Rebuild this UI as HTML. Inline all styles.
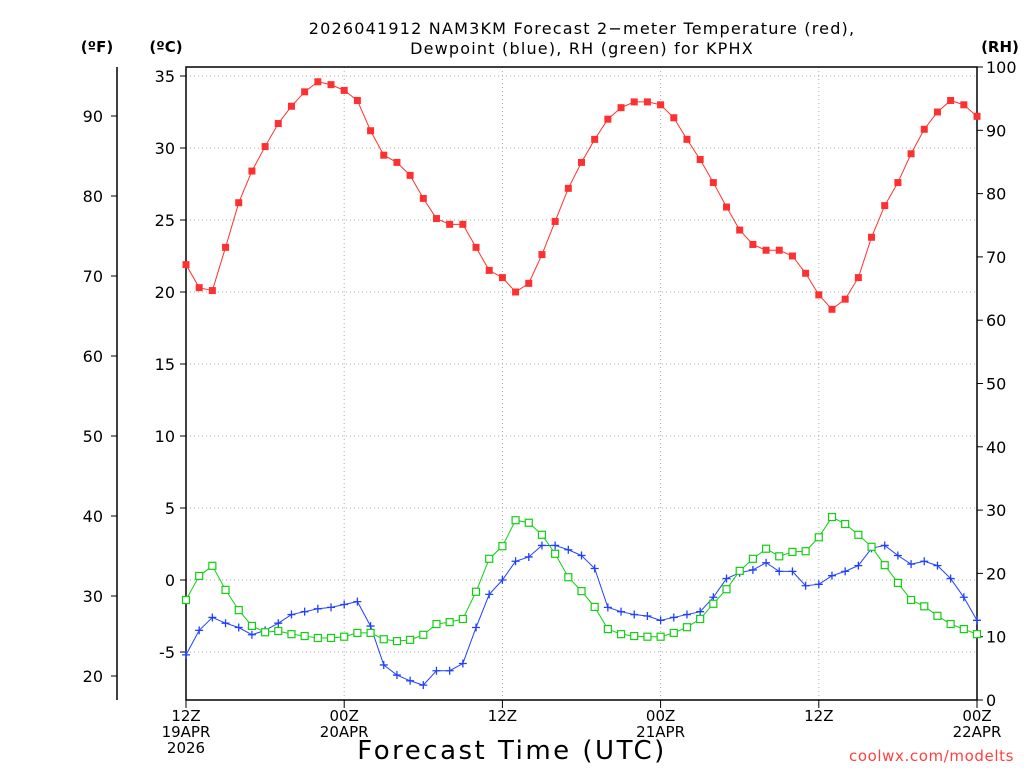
<!DOCTYPE html>
<html><head><meta charset="utf-8"><style>
html,body{margin:0;padding:0;background:#fff;}
svg{display:block;font-family:"DejaVu Sans","Liberation Sans",sans-serif;}
</style></head><body>
<svg id="chart" width="1024" height="768" viewBox="0 0 1024 768">
<text x="582" y="34" font-size="16" text-anchor="middle" letter-spacing="1.2">2026041912 NAM3KM Forecast 2−meter Temperature (red),</text>
<text x="582" y="54" font-size="16" text-anchor="middle" letter-spacing="1.2">Dewpoint (blue), RH (green) for KPHX</text>
<text x="97" y="52" font-size="15" font-weight="bold" text-anchor="middle">(ºF)</text>
<text x="166" y="52" font-size="15" font-weight="bold" text-anchor="middle">(ºC)</text>
<text x="1000" y="52" font-size="15" font-weight="bold" text-anchor="middle">(RH)</text>
<text x="512" y="759" font-size="26" text-anchor="middle" letter-spacing="2.5">Forecast Time (UTC)</text>
<text x="1014" y="761" font-size="15" fill="#ff4040" text-anchor="end" letter-spacing="0.6">coolwx.com/modelts</text>
<g id="grid"></g><g id="axes"></g><g id="series"></g>
</svg>
<script>
const hours=[];for(let i=0;i<=60;i++)hours.push(i);
const tempC=[21.9,20.3,20.1,23.1,26.2,28.4,30.1,31.7,32.9,33.9,34.6,34.4,34.0,33.3,31.2,29.5,29.0,28.1,26.5,25.1,24.7,24.7,23.1,21.5,21.0,20.0,20.6,22.6,24.9,27.2,29.0,30.6,32.0,32.8,33.2,33.2,33.0,32.1,30.6,29.2,27.6,25.9,24.3,23.3,22.9,22.9,22.5,21.3,19.8,18.8,19.5,21.0,23.8,26.0,27.6,29.6,31.3,32.5,33.3,33.0,32.2];
const dewC=[-5.2,-3.5,-2.6,-3.0,-3.3,-3.8,-3.5,-3.0,-2.4,-2.2,-2.0,-1.9,-1.7,-1.5,-3.2,-5.9,-6.6,-7.0,-7.3,-6.3,-6.3,-5.8,-3.3,-1.0,0.0,1.3,1.6,2.4,2.4,2.1,1.7,0.8,-1.9,-2.2,-2.4,-2.5,-2.8,-2.6,-2.4,-2.2,-1.2,0.1,0.5,0.7,1.2,0.6,0.6,-0.4,-0.3,0.3,0.6,1.0,2.2,2.4,1.7,1.1,1.3,1.0,0.1,-1.2,-2.8];
const rh=[15.8,19.6,21.2,17.4,14.2,11.7,10.7,10.9,10.4,10.1,9.8,9.8,10.0,10.6,10.6,9.6,9.3,9.5,10.3,12.0,12.3,12.8,17.1,22.3,24.3,28.4,28.0,26.1,23.1,19.4,17.2,14.7,11.2,10.4,10.1,10.0,10.0,10.6,11.5,12.8,15.2,17.5,20.4,22.3,23.9,22.7,23.4,23.5,25.7,28.9,27.8,26.1,24.2,21.3,18.5,15.8,14.8,13.3,12.0,11.2,10.4];
const cTicks=[-5,0,5,10,15,20,25,30,35];
const fTicks=[20,30,40,50,60,70,80,90];
const rhTicks=[0,10,20,30,40,50,60,70,80,90,100];
const xTicks=[0,12,24,36,48,60];
const xLab1=["12Z","00Z","12Z","00Z","12Z","00Z"];
const xLab2=["19APR","20APR","","21APR","","22APR"];
const xLab3=["2026","","","","",""];
const X0=186,X1=977,Y0=67,Y1=700;
const x=h=>X0+(X1-X0)*h/60;
const yC=c=>580-c*14.4;
const yF=f=>yC((f-32)*5/9);
const yR=r=>Y1-(Y1-Y0)*r/100;
const NS="http://www.w3.org/2000/svg";
function mk(p,t,a){const e=document.createElementNS(NS,t);for(const k in a)e.setAttribute(k,a[k]);p.appendChild(e);return e;}
const G=document.getElementById('grid'),A=document.getElementById('axes'),S=document.getElementById('series');
cTicks.forEach(c=>{
 const l=mk(G,'line',{x1:X0,x2:X1,y1:yC(c),y2:yC(c),stroke:'#aaa','stroke-dasharray':'1,3'});
 
 mk(A,'line',{x1:X0-6,x2:X0,y1:yC(c),y2:yC(c),stroke:'#000'});
 const t=mk(A,'text',{x:X0-11,y:yC(c)+6,'font-size':16,'text-anchor':'end'});t.textContent=c;
 
});
xTicks.forEach((h,i)=>{
 if(i>0&&i<5){const l=mk(G,'line',{x1:x(h),x2:x(h),y1:Y0,y2:Y1,stroke:'#aaa','stroke-dasharray':'1,3'});
 }
 mk(A,'line',{x1:x(h),x2:x(h),y1:Y1,y2:Y1+8,stroke:'#000'});
 [xLab1[i],xLab2[i],xLab3[i]].forEach((s,j)=>{if(!s)return;
  const t=mk(A,'text',{x:x(h),y:721+j*16,'font-size':15,'text-anchor':'middle'});t.textContent=s;
  });
});
mk(A,'rect',{x:X0,y:Y0,width:X1-X0,height:Y1-Y0,fill:'none',stroke:'#000','stroke-width':1.5});
mk(A,'line',{x1:117,x2:117,y1:Y0,y2:Y1,stroke:'#000','stroke-width':1.5});
fTicks.forEach(f=>{mk(A,'line',{x1:111,x2:117,y1:yF(f),y2:yF(f),stroke:'#000'});
 const t=mk(A,'text',{x:103,y:yF(f)+6,'font-size':16,'text-anchor':'end'});t.textContent=f;
 });
rhTicks.forEach(r=>{mk(A,'line',{x1:X1,x2:X1+6,y1:yR(r),y2:yR(r),stroke:'#000'});
 const t=mk(A,'text',{x:986,y:yR(r)+6,'font-size':16,'text-anchor':'start'});t.textContent=r;
 });
function line(vals,fy,col,name){
 const p=mk(S,'polyline',{points:vals.map((v,i)=>x(hours[i])+','+fy(v)).join(' '),fill:'none',stroke:col,'stroke-width':1});
 
}
line(tempC,yC,'#ff3030','temperature-line');
line(dewC,yC,'#2040ff','dewpoint-line');
line(rh,yR,'#10d010','rh-line');
tempC.forEach((v,i)=>{const r=mk(S,'rect',{x:x(hours[i])-3.5,y:yC(v)-3.5,width:7,height:7,fill:'#ff3030'});
 });
dewC.forEach((v,i)=>{const g=mk(S,'path',{d:`M${x(hours[i])-4} ${yC(v)}h8M${x(hours[i])} ${yC(v)-4}v8`,stroke:'#2040ff','stroke-width':1.3});
 });
rh.forEach((v,i)=>{const r=mk(S,'rect',{x:x(hours[i])-3.5,y:yR(v)-3.5,width:7,height:7,fill:'#fff',stroke:'#10d010','stroke-width':1.2});
 });
</script>
</body></html>
